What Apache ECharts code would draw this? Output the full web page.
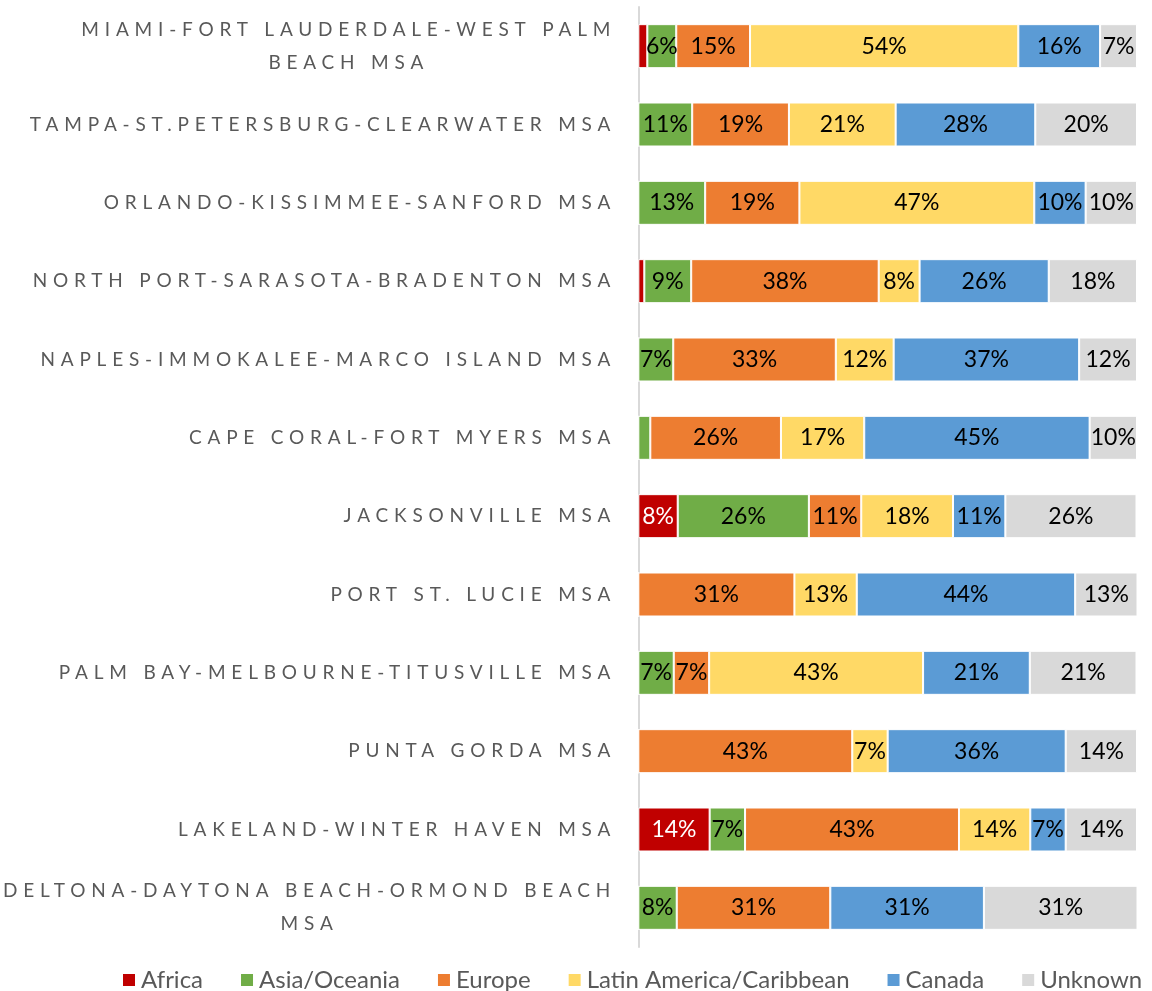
<!DOCTYPE html>
<html>
<head>
<meta charset="utf-8">
<script src="https://cdn.jsdelivr.net/npm/echarts@6/dist/echarts.min.js"></script>
<style>html,body{margin:0;padding:0;background:#fff;}#c{width:1152px;height:991px;}</style>
</head>
<body>
<div id="c"></div>
<script>
var categories = [
  'MIAMI-FORT LAUDERDALE-WEST PALM\nBEACH MSA',
  'TAMPA-ST.PETERSBURG-CLEARWATER MSA',
  'ORLANDO-KISSIMMEE-SANFORD MSA',
  'NORTH PORT-SARASOTA-BRADENTON MSA',
  'NAPLES-IMMOKALEE-MARCO ISLAND MSA',
  'CAPE CORAL-FORT MYERS MSA',
  'JACKSONVILLE MSA',
  'PORT ST. LUCIE MSA',
  'PALM BAY-MELBOURNE-TITUSVILLE MSA',
  'PUNTA GORDA MSA',
  'LAKELAND-WINTER HAVEN MSA',
  'DELTONA-DAYTONA BEACH-ORMOND BEACH\nMSA'
];
var seriesNames = ['Africa', 'Asia/Oceania', 'Europe', 'Latin America/Caribbean', 'Canada', 'Unknown'];
var africa  = [1.8, 0, 0, 1.2, 0, 0, 7.9, 0, 0, 0, 14.3, 0];
var asia    = [5.8, 10.8, 13.4, 9.4, 7.0, 2.4, 26.3, 0, 7.1, 0, 7.1, 7.7];
var europe  = [14.8, 19.4, 18.9, 37.6, 32.6, 26.2, 10.5, 31.3, 7.1, 42.9, 42.9, 30.8];
var latin   = [53.8, 21.4, 47.1, 8.2, 11.6, 16.7, 18.4, 12.5, 42.9, 7.1, 14.3, 0];
var canada  = [16.4, 28.0, 10.3, 25.9, 37.2, 45.2, 10.5, 43.8, 21.4, 35.7, 7.1, 30.8];
var unknown = [7.4, 20.4, 10.3, 17.7, 11.6, 9.5, 26.3, 12.5, 21.4, 14.3, 14.3, 30.8];
var colors = ['#C00000', '#70AD47', '#ED7D31', '#FFD966', '#5B9BD5', '#D9D9D9'];

// letter spacing only for the category labels (Excel-style spaced caps)
var LS = 5.8;
var LABEL_FONT = "Lato, 'Liberation Sans'";
(function () {
  var P = CanvasRenderingContext2D.prototype;
  if (!('letterSpacing' in P)) { return; }
  var orig = P.fillText;
  var origM = P.measureText;
  function isSpaced(f) { return f && f.indexOf('Liberation Sans') >= 0; }
  P.fillText = function (t, x, y, m) {
    var f = this.font;
    var spaced = isSpaced(f);
    var want = spaced ? LS + 'px' : '0px';
    if (this.letterSpacing !== want) { this.letterSpacing = want; this.font = f; }
    var a = this.textAlign;
    var dx = spaced ? ((a === 'right' || a === 'end') ? LS : (a === 'center' ? LS / 2 : 0)) : 0;
    var r = (m === undefined) ? orig.call(this, t, x + dx, y) : orig.call(this, t, x + dx, y, m);
    if (spaced) { this.letterSpacing = '0px'; this.font = f; }
    return r;
  };
  P.measureText = function (t) {
    var f = this.font;
    if (!isSpaced(f)) {
      if (this.letterSpacing !== '0px') { this.letterSpacing = '0px'; this.font = f; }
      return origM.call(this, t);
    }
    this.letterSpacing = LS + 'px'; this.font = f;
    var mt = origM.call(this, t);
    this.letterSpacing = '0px'; this.font = f;
    var res = {};
    for (var k in mt) { var v = mt[k]; if (typeof v === 'number') { res[k] = v; } }
    res.width = Math.max(0, mt.width - LS);
    return res;
  };
})();

var chart = echarts.init(document.getElementById('c'), null, {renderer: 'canvas'});
var all = [africa, asia, europe, latin, canada, unknown];
var series = all.map(function (arr, i) {
  return {
    name: seriesNames[i],
    type: 'bar',
    stack: 'total',
    barWidth: 44,
    data: arr,
    itemStyle: {color: colors[i], borderColor: '#ffffff', borderWidth: 1},
    label: {
      show: true,
      position: 'inside',
      fontFamily: 'Lato',
      fontSize: 23,
      color: i === 0 ? '#ffffff' : '#000000',
      formatter: function (p) { return p.value >= 4 ? Math.round(p.value) + '%' : ''; }
    }
  };
});
chart.setOption({
  animation: false,
  color: colors,
  grid: {left: 638, right: 15, top: 7, bottom: 44, containLabel: false},
  xAxis: {type: 'value', min: 0, max: 100, show: false},
  yAxis: {
    type: 'category',
    inverse: true,
    data: categories,
    axisLine: {show: true, lineStyle: {color: '#D9D9D9', width: 2}},
    axisTick: {show: false},
    axisLabel: {
      interval: 0,
      margin: 28,
      color: '#595959',
      fontFamily: LABEL_FONT,
      fontSize: 19,
      lineHeight: 33,
      align: 'right',
      formatter: function (v) {
        return v.split('\n').map(function (s) { return '{c|' + s + '}'; }).join('\n');
      },
      rich: {
        c: {align: 'center', fontFamily: LABEL_FONT, fontSize: 19, color: '#595959', lineHeight: 33}
      }
    }
  },
  legend: {
    top: 963,
    left: 116,
    width: 1100,
    itemWidth: 14,
    itemHeight: 14,
    itemGap: 36,
    icon: 'rect',
    textStyle: {fontFamily: 'Lato', fontSize: 24, color: '#595959'},
    data: seriesNames
  },
  series: series
});
</script>
</body>
</html>
